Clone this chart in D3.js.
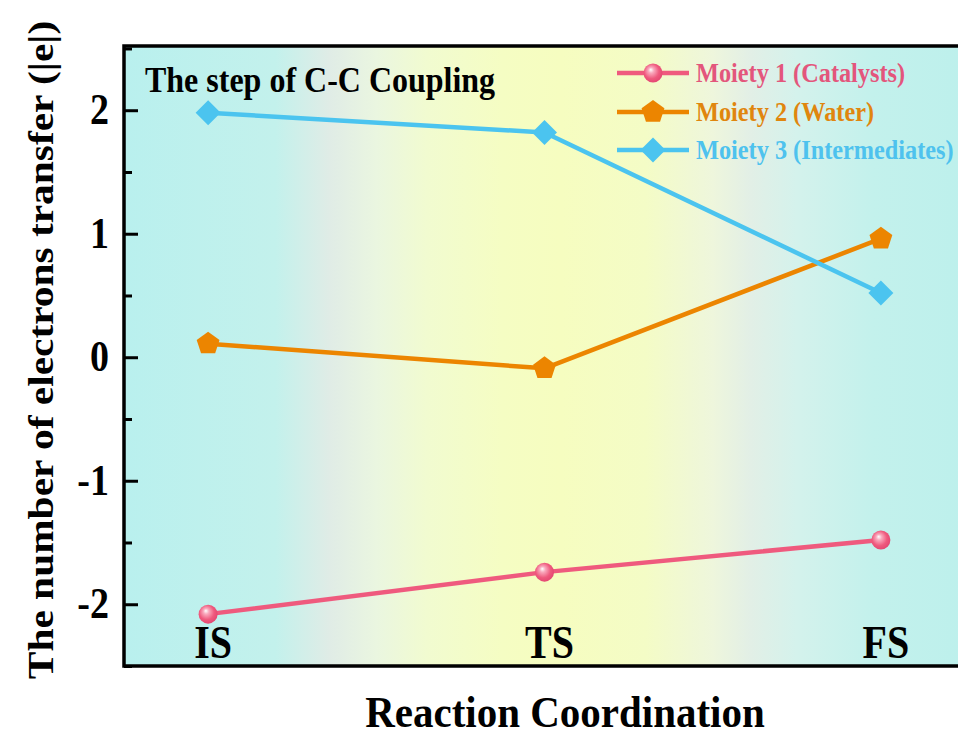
<!DOCTYPE html>
<html>
<head>
<meta charset="utf-8">
<script src="https://cdn.jsdelivr.net/npm/d3@7"></script>
<style>
  html, body { margin: 0; padding: 0; background: #ffffff; }
  svg { display: block; }
</style>
</head>
<body>
<svg id="chart" width="958" height="737"></svg>
<script>
// Reaction stages along the coordinate
const stages = ["IS", "TS", "FS"];
// Electron transfer (|e|) for each moiety at each stage
const moiety1 = [-2.08, -1.74, -1.48];
const moiety2 = [0.11, -0.09, 0.96];
const moiety3 = [1.98, 1.82, 0.52];
const seriesNames = ["Moiety 1 (Catalysts)", "Moiety 2 (Water)", "Moiety 3 (Intermediates)"];
const yTicks = [-2, -1, 0, 1, 2];
const yMinorTicks = [-2.5, -1.5, -0.5, 0.5, 1.5, 2.5];

const colors = ["#ef5a7e", "#ec8500", "#4bc4ef"];
const textColors = ["#e3567c", "#e0860e", "#4ec2ee"];

const svg = d3.select("#chart");
const font = "'Liberation Serif', 'Times New Roman', serif";
const stretch = 1.15; // tall, narrow lettering

const plot = { left: 124, right: 965, top: 46, bottom: 666 };

const x = d3.scaleLinear().domain([-0.25, 2.25]).range([plot.left, plot.right]);
const y = d3.scaleLinear().domain([-2.5, 2.52]).range([plot.bottom, plot.top]);

// Bold serif text, stretched along the vertical of the page around its anchor
function label(parent, tx, ty, str, size, anchor, fill, rotate, s) {
  const k = s || stretch;
  const tf = rotate
    ? `translate(${tx},${ty}) rotate(${rotate}) scale(${k},1)`
    : `translate(${tx},${ty}) scale(1,${k})`;
  return parent.append("text")
    .attr("transform", tf)
    .attr("text-anchor", anchor || "start")
    .attr("font-family", font).attr("font-weight", "bold").attr("font-size", size)
    .attr("fill", fill || "#000")
    .text(str);
}

// Background gradient: cyan at the ends, pale yellow around the transition state
const defs = svg.append("defs");
const bg = defs.append("linearGradient").attr("id", "bg")
  .attr("x1", "0%").attr("x2", "100%").attr("y1", "0%").attr("y2", "0%");
[
  [0.00, "#b9f0ee"], [0.18, "#c3f1ec"], [0.245, "#e0ece6"], [0.30, "#eaf6e0"],
  [0.36, "#f1fbd0"], [0.45, "#f5fdc3"], [0.52, "#f6fdc0"], [0.62, "#f4fcc6"],
  [0.70, "#eef6dc"], [0.745, "#e2efe6"], [0.80, "#d4f2ec"], [0.89, "#c3f1ec"],
  [1.00, "#bdf0ec"]
].forEach(([o, c]) => bg.append("stop").attr("offset", o).attr("stop-color", c));

// Shaded ball marker for moiety 1
const ball = defs.append("radialGradient").attr("id", "ball")
  .attr("cx", "45%").attr("cy", "45%").attr("r", "60%")
  .attr("fx", "38%").attr("fy", "32%");
ball.append("stop").attr("offset", "0%").attr("stop-color", "#ffffff");
ball.append("stop").attr("offset", "25%").attr("stop-color", "#f9a9bd");
ball.append("stop").attr("offset", "65%").attr("stop-color", "#ef5a7e");
ball.append("stop").attr("offset", "100%").attr("stop-color", "#e24470");

svg.append("rect")
  .attr("x", plot.left).attr("y", plot.top)
  .attr("width", plot.right - plot.left).attr("height", plot.bottom - plot.top)
  .attr("fill", "url(#bg)");

// Axis with inward ticks
const yAxis = d3.axisRight(y).tickValues(yTicks).tickSize(14).tickFormat("");
svg.append("g").attr("transform", `translate(${plot.left},0)`).call(yAxis)
  .call(g => g.select(".domain").remove())
  .call(g => g.selectAll("line").attr("stroke", "#000").attr("stroke-width", 3));
const yMinor = d3.axisRight(y).tickValues(yMinorTicks).tickSize(8).tickFormat("");
svg.append("g").attr("transform", `translate(${plot.left},0)`).call(yMinor)
  .call(g => g.select(".domain").remove())
  .call(g => g.selectAll("line").attr("stroke", "#000").attr("stroke-width", 3));

// Tick labels
const tickG = svg.append("g");
yTicks.forEach(d => label(tickG, 109, y(d) + 14, d, 38, "end"));

// Frame
svg.append("rect")
  .attr("x", plot.left).attr("y", plot.top)
  .attr("width", plot.right - plot.left).attr("height", plot.bottom - plot.top)
  .attr("fill", "none").attr("stroke", "#000").attr("stroke-width", 3.5);

// Stage labels inside the plot
const stageG = svg.append("g");
stages.forEach((s, i) => label(stageG, x(i) + 5, 658, s, 40, "middle"));

// Axis titles
label(svg, 53, 350, "The number of electrons transfer (|e|)", 36, "middle", "#000", -90);
label(svg, 565, 727, "Reaction Coordination", 41, "middle", "#000", 0, 1.1);
label(svg, 145, 92, "The step of C-C Coupling", 32, "start");

// Marker shapes
function pentagonPath(r) {
  const pts = d3.range(5).map(k => {
    const a = -Math.PI / 2 + k * 2 * Math.PI / 5;
    return [r * Math.cos(a), r * Math.sin(a)];
  });
  return "M" + pts.map(p => p.join(",")).join("L") + "Z";
}
function diamondPath(r) {
  return `M0,${-r}L${r},0L0,${r}L${-r},0Z`;
}
function drawMarker(g, k) {
  if (k === 0) {
    g.append("circle").attr("r", 9.5).attr("fill", "url(#ball)");
  } else if (k === 1) {
    g.append("path").attr("d", pentagonPath(12)).attr("fill", colors[1]);
  } else {
    g.append("path").attr("d", diamondPath(12.5)).attr("fill", colors[2]);
  }
}

const series = [moiety1, moiety2, moiety3];
const line = d3.line().x((d, i) => x(i)).y(d => y(d));

series.forEach((vals, k) => {
  svg.append("path").datum(vals)
    .attr("d", line)
    .attr("fill", "none")
    .attr("stroke", colors[k])
    .attr("stroke-width", 4.5)
    .attr("stroke-linejoin", "round");
});
series.forEach((vals, k) => {
  vals.forEach((v, i) => {
    const g = svg.append("g").attr("transform", `translate(${x(i)},${y(v)})`);
    drawMarker(g, k);
  });
});

// Legend
const legY = [73, 112, 150];
seriesNames.forEach((name, k) => {
  const g = svg.append("g").attr("transform", `translate(0,${legY[k]})`);
  g.append("line").attr("x1", 617).attr("x2", 689).attr("y1", 0).attr("y2", 0)
    .attr("stroke", colors[k]).attr("stroke-width", 4.5);
  const m = g.append("g").attr("transform", "translate(653,0)");
  drawMarker(m, k);
  label(g, 696, 9, name, 24.3, "start", textColors[k]);
});
</script>
</body>
</html>
